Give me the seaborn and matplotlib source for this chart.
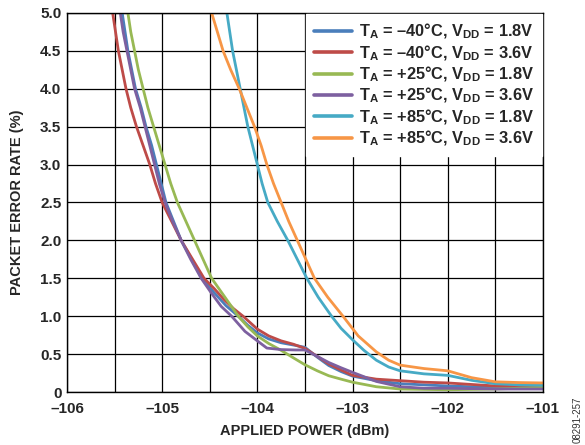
import pandas as pd
import matplotlib
matplotlib.use('Agg')
import matplotlib.pyplot as plt
import seaborn as sns

# series (x = applied power dBm, y = PER %)
x_m40_18 = [-105.42, -105.39, -105.36, -105.32, -105.28, -105.22, -105.17, -105.11, -105.06, -105.01, -104.96, -104.88, -104.80, -104.69, -104.58, -104.46, -104.33, -104.20, -104.10, -104.00, -103.88, -103.75, -103.62, -103.50, -103.37, -103.25, -103.12, -103.00, -102.75, -102.50, -102.00, -101.50, -101.00]
y_m40_18 = [5.0, 4.75, 4.5, 4.25, 4.0, 3.75, 3.5, 3.25, 3.0, 2.75, 2.5, 2.25, 2.0, 1.75, 1.5, 1.32, 1.14, 1.0, 0.88, 0.78, 0.70, 0.65, 0.62, 0.59, 0.46, 0.35, 0.27, 0.21, 0.15, 0.11, 0.08, 0.06, 0.05]

x_m40_36 = [-105.52, -105.49, -105.46, -105.42, -105.38, -105.33, -105.27, -105.20, -105.13, -105.07, -105.00, -104.90, -104.80, -104.68, -104.56, -104.45, -104.35, -104.25, -104.15, -104.00, -103.88, -103.75, -103.62, -103.50, -103.37, -103.25, -103.12, -103.00, -102.75, -102.50, -102.25, -102.00, -101.75, -101.50, -101.00]
y_m40_36 = [5.0, 4.75, 4.5, 4.25, 4.0, 3.75, 3.5, 3.25, 3.0, 2.75, 2.5, 2.25, 2.0, 1.75, 1.5, 1.36, 1.22, 1.10, 1.0, 0.83, 0.74, 0.675, 0.63, 0.575, 0.47, 0.37, 0.29, 0.22, 0.17, 0.15, 0.13, 0.12, 0.10, 0.08, 0.06]

x_p25_18 = [-105.36, -105.33, -105.29, -105.25, -105.20, -105.15, -105.09, -105.03, -104.97, -104.91, -104.84, -104.75, -104.66, -104.57, -104.48, -104.34, -104.20, -104.10, -104.00, -103.88, -103.75, -103.62, -103.50, -103.37, -103.25, -103.12, -103.00, -102.75, -102.50, -102.00, -101.50, -101.00]
y_p25_18 = [5.0, 4.75, 4.5, 4.25, 4.0, 3.75, 3.5, 3.25, 3.0, 2.75, 2.5, 2.25, 2.0, 1.75, 1.5, 1.25, 1.0, 0.86, 0.74, 0.64, 0.55, 0.45, 0.36, 0.28, 0.215, 0.17, 0.13, 0.07, 0.04, 0.03, 0.04, 0.06]

x_p25_36 = [-105.44, -105.41, -105.37, -105.33, -105.29, -105.23, -105.18, -105.13, -105.08, -105.03, -104.97, -104.89, -104.80, -104.70, -104.59, -104.48, -104.38, -104.27, -104.13, -104.00, -103.90, -103.75, -103.60, -103.50, -103.37, -103.25, -103.12, -103.00, -102.75, -102.50, -102.25, -102.00, -101.50, -101.00]
y_p25_36 = [5.0, 4.75, 4.5, 4.25, 4.0, 3.75, 3.5, 3.25, 3.0, 2.75, 2.5, 2.25, 2.0, 1.75, 1.5, 1.3, 1.13, 1.0, 0.8, 0.675, 0.58, 0.56, 0.555, 0.555, 0.47, 0.39, 0.32, 0.26, 0.14, 0.07, 0.05, 0.05, 0.04, 0.04]

x_p85_18 = [-104.32, -104.29, -104.26, -104.22, -104.18, -104.14, -104.10, -104.05, -104.00, -103.95, -103.89, -103.79, -103.68, -103.58, -103.48, -103.36, -103.22, -103.12, -103.00, -102.88, -102.75, -102.62, -102.50, -102.25, -102.00, -101.75, -101.50, -101.25, -101.00]
y_p85_18 = [5.0, 4.75, 4.5, 4.25, 4.0, 3.75, 3.5, 3.25, 3.0, 2.75, 2.5, 2.25, 2.0, 1.75, 1.5, 1.25, 1.0, 0.84, 0.69, 0.55, 0.42, 0.33, 0.28, 0.24, 0.22, 0.155, 0.11, 0.095, 0.09]

x_p85_36 = [-104.48, -104.42, -104.36, -104.28, -104.19, -104.11, -104.03, -103.96, -103.90, -103.83, -103.75, -103.67, -103.58, -103.49, -103.40, -103.26, -103.10, -102.94, -102.75, -102.62, -102.50, -102.25, -102.00, -101.75, -101.50, -101.25, -101.00]
y_p85_36 = [5.0, 4.75, 4.5, 4.25, 4.0, 3.75, 3.5, 3.25, 3.0, 2.75, 2.5, 2.25, 2.0, 1.75, 1.5, 1.25, 1.0, 0.74, 0.53, 0.42, 0.355, 0.31, 0.28, 0.19, 0.135, 0.125, 0.12]

labels = [
    r'T$_\mathbf{A}$ = –40°C, V$_\mathbf{DD}$ = 1.8V',
    r'T$_\mathbf{A}$ = –40°C, V$_\mathbf{DD}$ = 3.6V',
    r'T$_\mathbf{A}$ = +25°C, V$_\mathbf{DD}$ = 1.8V',
    r'T$_\mathbf{A}$ = +25°C, V$_\mathbf{DD}$ = 3.6V',
    r'T$_\mathbf{A}$ = +85°C, V$_\mathbf{DD}$ = 1.8V',
    r'T$_\mathbf{A}$ = +85°C, V$_\mathbf{DD}$ = 3.6V',
]
colors = ['#4A7EBB', '#BE4B48', '#98B954', '#7D60A0', '#46AAC5', '#F79646']

xticks = [-106, -105, -104, -103, -102, -101]
xticklabels = ['–106', '–105', '–104', '–103', '–102', '–101']
yticks = [0, 0.5, 1.0, 1.5, 2.0, 2.5, 3.0, 3.5, 4.0, 4.5, 5.0]
yticklabels = ['0', '0.5', '1.0', '1.5', '2.0', '2.5', '3.0', '3.5', '4.0', '4.5', '5.0']

xs = [x_m40_18, x_m40_36, x_p25_18, x_p25_36, x_p85_18, x_p85_36]
ys = [y_m40_18, y_m40_36, y_p25_18, y_p25_36, y_p85_18, y_p85_36]
frames = []
for lab, xv, yv in zip(labels, xs, ys):
    frames.append(pd.DataFrame({'power': xv, 'per': yv, 'cond': lab}))
df = pd.concat(frames, ignore_index=True)

sns.set_style('white')
plt.rcParams['font.family'] = ['Liberation Sans', 'DejaVu Sans']
plt.rcParams['font.weight'] = 'bold'
plt.rcParams['mathtext.fontset'] = 'custom'
plt.rcParams['mathtext.rm'] = 'Liberation Sans:bold'
plt.rcParams['mathtext.bf'] = 'Liberation Sans:bold'
plt.rcParams['mathtext.default'] = 'bf'

fig = plt.figure(figsize=(5.85, 4.45), dpi=100)
ax = fig.add_axes([0.1145, 0.119, 0.8135, 0.852])

sns.lineplot(data=df, x='power', y='per', hue='cond', hue_order=labels,
             palette=colors, estimator=None, sort=True, linewidth=2.0, ax=ax)

ax.set_xlim(-106, -101)
ax.set_ylim(0, 5)
ax.set_xticks(xticks)
ax.set_xticklabels(xticklabels, fontsize=11, fontweight='bold')
ax.set_xticks([-105.5, -104.5, -103.5, -102.5, -101.5], minor=True)
ax.set_yticks(yticks)
ax.set_yticklabels(yticklabels, fontsize=11, fontweight='bold')
ax.tick_params(axis='both', which='both', length=0)
ax.tick_params(axis='x', pad=7)
ax.tick_params(axis='y', pad=4)
ax.grid(True, which='both', color='black', linewidth=0.9)
ax.set_axisbelow(True)
for s in ax.spines.values():
    s.set_color('black')
    s.set_linewidth(1.0)

ax.set_xlabel('APPLIED POWER (dBm)', fontsize=10.5, fontweight='bold', labelpad=6)
ax.set_ylabel('PACKET ERROR RATE (%)', fontsize=10.5, fontweight='bold', labelpad=12)

handles, labs = ax.get_legend_handles_labels()
leg = ax.legend(handles, labs, loc='upper right', bbox_to_anchor=(1.0, 1.0),
                borderaxespad=0.05, frameon=True, fancybox=False, framealpha=1,
                facecolor='white', edgecolor='white',
                handlelength=2.35, handletextpad=0.4, labelspacing=0.12,
                borderpad=0.5, prop={'weight': 'bold', 'size': 11.75})
for line in leg.get_lines():
    line.set_linewidth(2.6)

fig.text(0.988, 0.005, '08291-257', rotation=90, fontsize=7, fontweight='normal',
         color='#333333', ha='center', va='bottom')

fig.savefig('out.png', dpi=100)
